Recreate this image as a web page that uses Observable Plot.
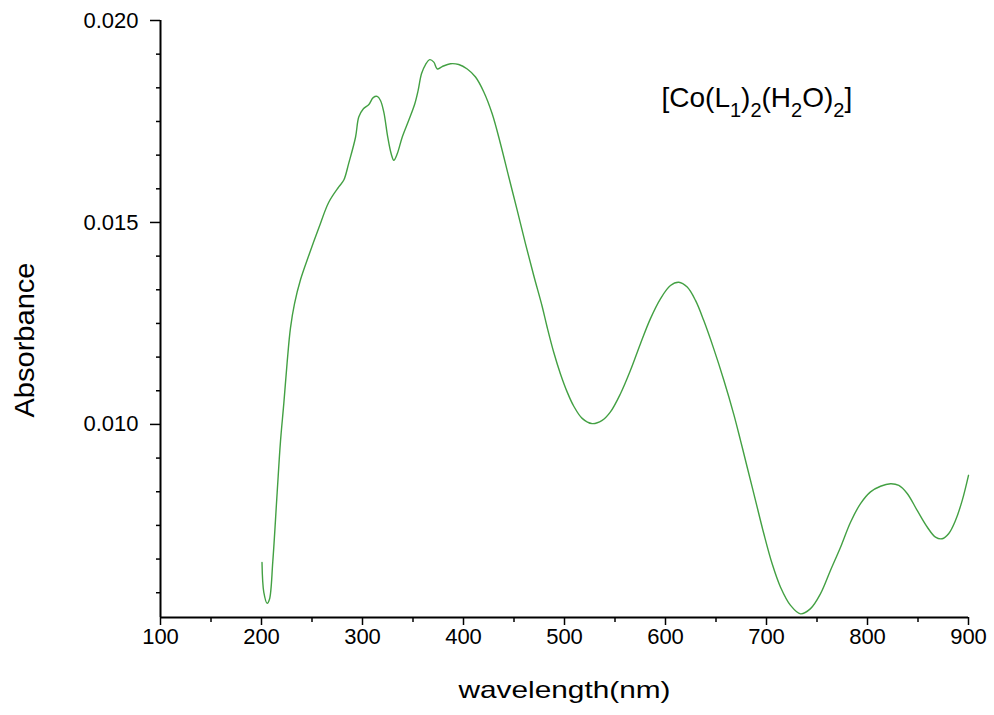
<!DOCTYPE html>
<html>
<head>
<meta charset="utf-8">
<script src="https://cdn.jsdelivr.net/npm/d3@7"></script>
<script src="https://cdn.jsdelivr.net/npm/@observablehq/plot@0.6"></script>
<style>
  body { margin: 0; background: #ffffff; }
  #chart svg { display: block; }
  #chart svg g[aria-label="x-axis tick label"],
  #chart svg g[aria-label="y-axis tick label"] { font-size: 22px; }
</style>
</head>
<body>
<div id="chart"></div>
<script>
// ---- data ----
const wavelength = [
  200.5, 202.3, 205.6, 207.9, 211.2, 215.5, 218.8, 222.1, 225.4, 228.7,
  232.7, 238.6, 246.8, 256.7, 266.6, 276.5, 281.5, 286.4, 293.1, 296.3,
  300.7, 306.3, 310.6, 314.5, 317.8, 321.1, 325.0, 328.4, 331.0, 334.4,
  339.3, 345.8, 351.8, 355.1, 358.4, 362.4, 366.6, 370.6, 374.0, 378.9,
  387.1, 395.3, 403.7, 411.9, 420.1, 428.4, 436.6, 444.9, 453.2, 461.4,
  469.6, 477.9, 482.9, 489.4, 496.0, 502.7, 509.2, 517.5, 527.4, 537.3,
  545.5, 555.4, 565.3, 575.2, 585.1, 595.0, 604.9, 613.2, 621.5, 629.7,
  637.9, 647.8, 657.7, 667.6, 674.3, 680.9, 689.1, 697.3, 705.6, 713.9,
  723.8, 733.7, 743.6, 753.5, 763.4, 773.3, 783.2, 793.1, 803.0, 812.9,
  822.8, 831.0, 839.3, 849.2, 859.1, 867.3, 873.9, 880.5, 887.1, 893.8,
  900.0
];
const absorbance = [
  0.00658, 0.00584, 0.00557, 0.00567, 0.00661, 0.00831, 0.00958, 0.01052, 0.01154, 0.01239,
  0.01299, 0.01358, 0.01418, 0.01486, 0.01550, 0.01588, 0.01605, 0.01647, 0.01711, 0.01761,
  0.01781, 0.01792, 0.01809, 0.01812, 0.01802, 0.01773, 0.01711, 0.01670, 0.01654, 0.01670,
  0.01711, 0.01753, 0.01794, 0.01827, 0.01868, 0.01891, 0.01903, 0.01897, 0.01880, 0.01886,
  0.01893, 0.01891, 0.01880, 0.01860, 0.01823, 0.01769, 0.01695, 0.01612, 0.01530, 0.01447,
  0.01368, 0.01292, 0.01240, 0.01178, 0.01125, 0.01080, 0.01045, 0.01015, 0.01002, 0.01010,
  0.01031, 0.01076, 0.01134, 0.01200, 0.01262, 0.01311, 0.01344, 0.01352, 0.01340, 0.01307,
  0.01257, 0.01187, 0.01110, 0.01025, 0.00960, 0.00894, 0.00812, 0.00730, 0.00655, 0.00597,
  0.00552, 0.00531, 0.00544, 0.00581, 0.00639, 0.00696, 0.00758, 0.00804, 0.00833, 0.00847,
  0.00853, 0.00849, 0.00829, 0.00787, 0.00746, 0.00721, 0.00717, 0.00730, 0.00762, 0.00812,
  0.00874
];

// ---- axes / labels ----
const xDomain = [100, 900];
const yDomain = [0.00522, 0.020];
const xTicks = [100, 200, 300, 400, 500, 600, 700, 800, 900];
const xMinorTicks = [150, 250, 350, 450, 550, 650, 750, 850];
const yTicks = [0.010, 0.015, 0.020];
const yTickLabels = ["0.010", "0.015", "0.020"];
const yMinorStep = 0.005 / 6;
const xTitle = "wavelength(nm)";
const yTitle = "Absorbance";
const formulaText = "[Co(L1)2(H2O)2]";
const formulaParts = [
  ["[Co(L", false], ["1", true], [")", false], ["2", true],
  ["(H", false], ["2", true], ["O)", false], ["2", true], ["]", false]
];

const spectrum = wavelength.map((w, i) => ({w, a: absorbance[i]}));
const yMinorTicks = d3.range(1, 18)
  .filter(k => k % 6 !== 0)
  .map(k => yTicks[yTicks.length - 1] - k * yMinorStep)
  .filter(v => v >= yDomain[0]);

const lineColor = "#43a043";

const svg = Plot.plot({
  width: 994,
  height: 715,
  marginLeft: 160,
  marginRight: 26,
  marginTop: 20,
  marginBottom: 98,
  style: {
    fontFamily: "'Liberation Sans', Arial, sans-serif",
    fontSize: "21px",
    color: "#000",
    background: "#fff"
  },
  x: {type: "linear", domain: xDomain, label: null},
  y: {type: "linear", domain: yDomain, label: null},
  marks: [
    Plot.axisX(xTicks, {tickSize: 8, tickPadding: 3, tickFormat: d => String(d), label: null, strokeWidth: 1.5, fontSize: 22}),
    Plot.axisX(xMinorTicks, {tickSize: 5, tickFormat: () => "", label: null, strokeWidth: 1.5}),
    Plot.axisY(yTicks, {tickSize: 10, tickPadding: 12, tickFormat: d => yTickLabels[yTicks.indexOf(d)], label: null, strokeWidth: 1.5, fontSize: 22}),
    Plot.axisY(yMinorTicks, {tickSize: 4, tickFormat: () => "", label: null, strokeWidth: 1.5}),
    Plot.ruleX([xDomain[0]], {stroke: "#000", strokeWidth: 2}),
    Plot.ruleY([yDomain[0]], {stroke: "#000", strokeWidth: 2}),
    Plot.line(spectrum, {x: "w", y: "a", stroke: lineColor, strokeWidth: 1.4, curve: "catmull-rom"}),
    Plot.text([xTitle], {frameAnchor: "bottom", textAnchor: "middle", lineAnchor: "middle", dy: 73, fontSize: 24, fill: "#000"}),
    Plot.text([yTitle], {frameAnchor: "left", textAnchor: "middle", lineAnchor: "middle", rotate: -90, dx: -135, dy: 21, fontSize: 27, fill: "#000"}),
    Plot.text([formulaText], {frameAnchor: "top-left", textAnchor: "start", lineAnchor: "top", dx: 501, dy: 67, fontSize: 28, fill: "#000"})
  ]
});

const root = d3.select(svg);
const byContent = s => root.selectAll("text").filter(function () { return this.textContent === s; });
byContent(xTitle).attr("textLength", 212).attr("lengthAdjust", "spacingAndGlyphs");
byContent(yTitle).attr("textLength", 155).attr("lengthAdjust", "spacingAndGlyphs");

const ft = byContent(formulaText);
ft.text(null);
let prevSub = false;
formulaParts.forEach(([t, sub]) => {
  const ts = ft.append("tspan").text(t);
  if (sub) ts.attr("font-size", 20);
  if (sub && !prevSub) ts.attr("dy", 10);
  if (!sub && prevSub) ts.attr("dy", -10);
  prevSub = sub;
});

document.getElementById("chart").appendChild(svg);
</script>
</body>
</html>
